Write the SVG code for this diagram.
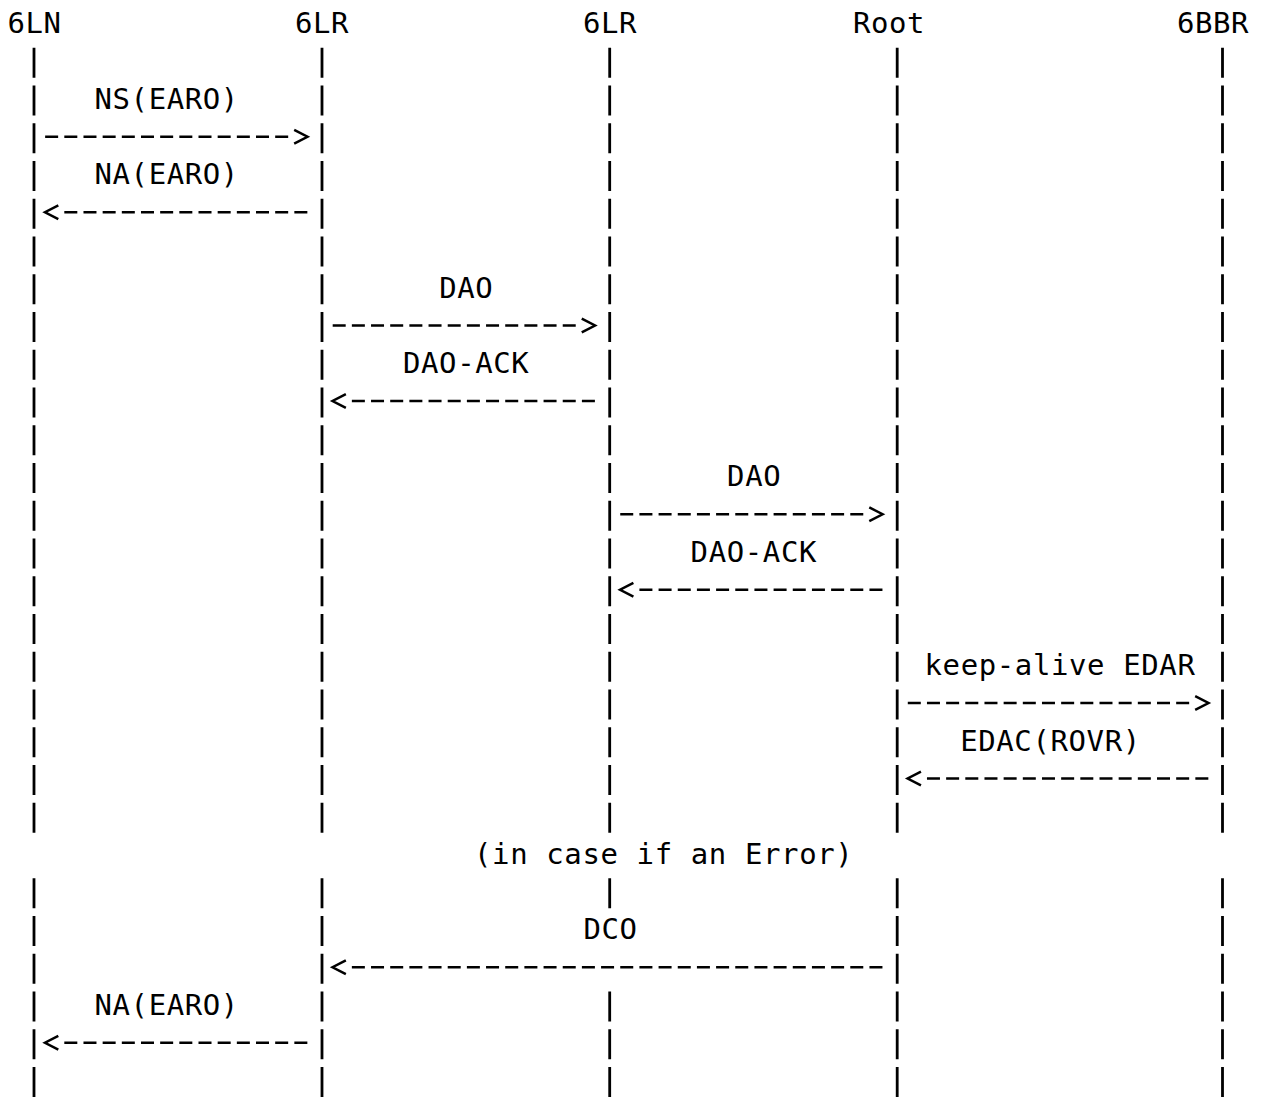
<svg xmlns="http://www.w3.org/2000/svg" width="1266" height="1098" viewBox="0 0 1266 1098">
<style>
text{font-family:"DejaVu Sans Mono","Liberation Mono",monospace;font-size:29px;letter-spacing:0.6px;fill:#000;text-anchor:middle}
.life{stroke:#000;stroke-width:2.8;stroke-dasharray:30 7.75;fill:none}
.msg{stroke:#000;stroke-width:2.6;stroke-dasharray:13 6.17;fill:none;marker-end:url(#ah)}
</style>
<defs>
<marker id="ah" markerUnits="userSpaceOnUse" orient="auto" viewBox="0 -10 24 20" refX="0" refY="0" markerWidth="24" markerHeight="20" overflow="visible">
<path d="M6,-6.8 L19.3,0 L6,6.8" fill="none" stroke="#000" stroke-width="2.5" stroke-dasharray="none"/>
</marker>
</defs>
<g id="node-6LN">
<text x="34.5" y="33.3">6LN</text>
<path class="life" d="M34,47.75 V832.75 M34,878.25 V1097"/>
</g>
<g id="node-6LR-1">
<text x="322" y="33.3">6LR</text>
<path class="life" d="M322,47.75 V832.75 M322,878.25 V1097"/>
</g>
<g id="node-6LR-2">
<text x="610" y="33.3">6LR</text>
<path class="life" d="M609.7,47.75 V832.75 M609.7,878.25 V908.25 M609.7,991.5 V1097"/>
</g>
<g id="node-Root">
<text x="889" y="33.3">Root</text>
<path class="life" d="M897.2,47.75 V832.75 M897.2,878.25 V1097"/>
</g>
<g id="node-6BBR">
<text x="1213" y="33.3">6BBR</text>
<path class="life" d="M1222.5,47.75 V832.75 M1222.5,878.25 V1097"/>
</g>
<g id="connectors">
<g id="msg-ns"><text x="166.7" y="108.8">NS(EARO)</text><path class="msg" d="M45.14,136.75 H288.18"/></g>
<g id="msg-na1"><text x="166.7" y="184.3">NA(EARO)</text><path class="msg" d="M307.35,212.25 H64.31"/></g>
<g id="msg-dao1"><text x="466.3" y="297.55">DAO</text><path class="msg" d="M332.69,325.5 H575.73"/></g>
<g id="msg-daoack1"><text x="466.2" y="373.05">DAO-ACK</text><path class="msg" d="M594.9,401 H351.86"/></g>
<g id="msg-dao2"><text x="754.2" y="486.05">DAO</text><path class="msg" d="M620.24,514.25 H863.28"/></g>
<g id="msg-daoack2"><text x="753.8" y="561.55">DAO-ACK</text><path class="msg" d="M882.45,589.75 H639.41"/></g>
<g id="msg-edar"><text x="1060" y="675.05">keep-alive EDAR</text><path class="msg" d="M907.79,703 H1189.17"/></g>
<g id="msg-edac"><text x="1050.5" y="750.55">EDAC(ROVR)</text><path class="msg" d="M1208.34,778.5 H926.96"/></g>
<g id="msg-dco"><text x="610.5" y="939.3">DCO</text><path class="msg" d="M882.45,967.25 H351.86"/></g>
<g id="msg-na2"><text x="166.7" y="1014.8">NA(EARO)</text><path class="msg" d="M307.35,1042.75 H64.31"/></g>
</g>
<g id="note">
<text x="663.7" y="863.8">(in case if an Error)</text>
</g>
</svg>
